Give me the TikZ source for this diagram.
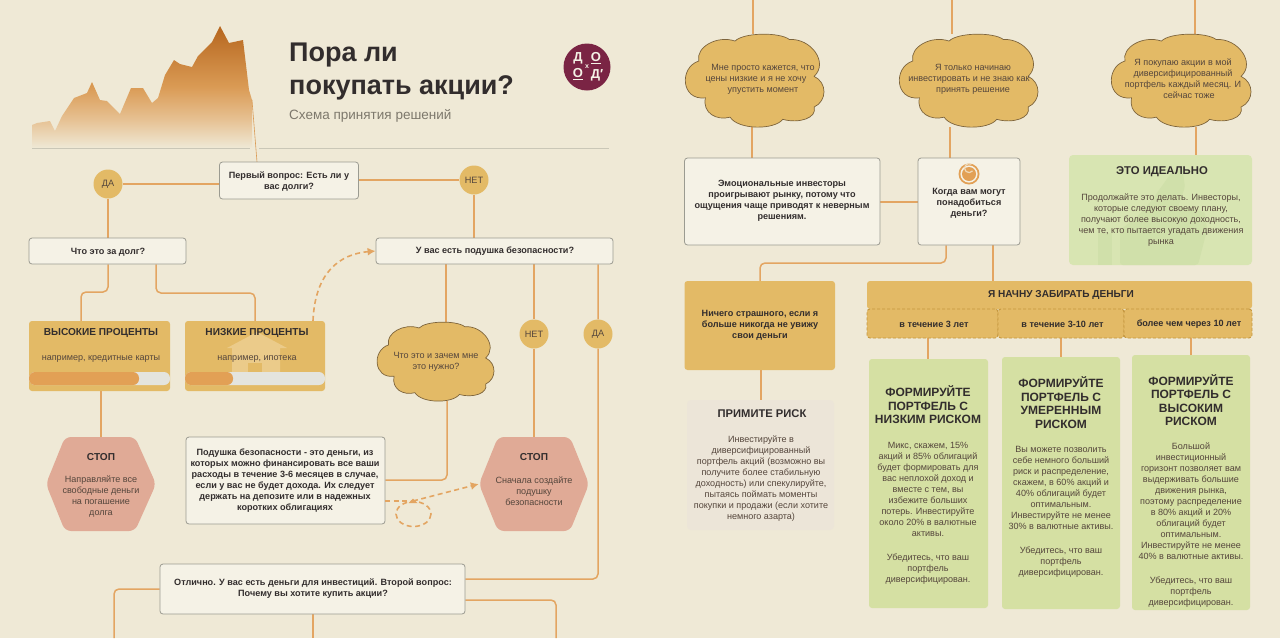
\documentclass[tikz,border=0pt]{standalone}
\usepackage{fontspec}
\setmainfont{Liberation Sans}
\usetikzlibrary{arrows.meta,backgrounds}
\definecolor{bgc}{RGB}{239,233,214}
\definecolor{linec}{RGB}{227,165,98}
\definecolor{goldc}{RGB}{227,186,102}
\definecolor{qfill}{RGB}{245,242,230}
\definecolor{qedge}{RGB}{155,155,145}
\definecolor{pinkc}{RGB}{224,170,150}
\definecolor{greenc}{RGB}{213,224,163}
\definecolor{idealc}{RGB}{216,229,178}
\definecolor{thumbc}{RGB}{208,224,170}
\definecolor{greyc}{RGB}{236,229,216}
\definecolor{maroon}{RGB}{122,36,68}
\definecolor{inkc}{RGB}{50,45,45}
\definecolor{softc}{RGB}{85,70,60}
\definecolor{housec}{RGB}{235,203,138}
\definecolor{trackc}{RGB}{228,228,222}
\definecolor{fillbar}{RGB}{226,160,85}
\definecolor{cloudedge}{RGB}{125,100,60}
\definecolor{charttop}{RGB}{182,102,30}
\definecolor{chartmid}{RGB}{218,155,85}
\definecolor{chartlow}{RGB}{230,192,145}
\definecolor{rulec}{RGB}{202,199,183}
\definecolor{subedge}{RGB}{196,150,62}
\definecolor{subttl}{RGB}{125,120,108}
\pgfdeclareverticalshading{chartshade}{100bp}{color(0bp)=(bgc); color(25bp)=(bgc); color(37bp)=(chartlow); color(50bp)=(chartmid); color(75bp)=(charttop); color(100bp)=(charttop)}
\tikzset{
 conn/.style={draw=linec,line width=1.5pt,rounded corners=5pt},
 dashc/.style={draw=linec,line width=1.6pt,dash pattern=on 5pt off 3.5pt},
 qbox/.style={draw=qedge,fill=qfill,line width=.8pt,rounded corners=3pt},
 goldbox/.style={fill=goldc,rounded corners=3pt},
 subbox/.style={fill=goldc,draw=subedge,line width=.9pt,densely dashed,rounded corners=3pt},
 greenbox/.style={fill=greenc,rounded corners=3pt},
 idealbox/.style={fill=idealc,rounded corners=4pt},
 greybox/.style={fill=greyc,rounded corners=4pt},
 badge/.style={circle,fill=goldc,minimum size=29pt,inner sep=0pt,text=softc,font=\fontsize{9.2}{11}\selectfont},
 txt/.style={text=softc,align=center,inner sep=0pt,yshift=-1.5pt,font=\fontsize{9.05}{11}\selectfont},
 btxt/.style={text=inkc,align=center,inner sep=0pt,yshift=-1.5pt,font=\bfseries\fontsize{9.1}{11}\selectfont},
 ttl/.style={text=inkc,align=center,inner sep=0pt,yshift=-1.5pt,font=\bfseries\fontsize{10.1}{13}\selectfont},
 bigttl/.style={text=inkc,align=center,inner sep=0pt,yshift=-1.5pt,font=\bfseries\fontsize{12}{13.5}\selectfont},
}
\newcommand{\bx}[7]{%
 \pgfmathsetmacro\bw{#5-#3}\pgfmathsetmacro\bh{#6-#4}%
 \pgfmathsetmacro\bcx{(#3+#5)/2}\pgfmathsetmacro\bcy{(#4+#6)/2}%
 \node[#2,minimum width=\bw pt,minimum height=\bh pt,inner sep=0pt,align=center] (#1) at (\bcx,\bcy) {#7};}
\newcommand{\cloudshape}[5]{%
 \pgfmathsetmacro\bw{#4-#2}\pgfmathsetmacro\bh{#5-#3}%
 \pgfmathsetmacro\bcx{(#2+#4)/2}\pgfmathsetmacro\bcy{(#3+#5)/2}%
 \pgfmathsetmacro\sx{\bw/425}\pgfmathsetmacro\sy{\bh/303}%
 \begin{scope}[shift={(#2,#3)},xscale=\sx,yscale=\sy,shift={(-10,-27)}]
 \draw[fill=goldc,draw=cloudedge,line width=.7pt]
 (165,50) .. controls (190,22) and (300,20) .. (330,45)
 .. controls (395,40) and (450,120) .. (405,165)
 .. controls (445,185) and (445,245) .. (405,265)
 .. controls (415,300) and (360,320) .. (310,305)
 .. controls (285,340) and (175,340) .. (150,298)
 .. controls (110,310) and (65,285) .. (75,235)
 .. controls (0,245) and (-5,135) .. (55,115)
 .. controls (45,70) and (110,30) .. (165,50) -- cycle;
 \end{scope}
 \node[minimum width=\bw pt,minimum height=\bh pt,inner sep=0pt] (#1) at (\bcx,\bcy) {};}
\begin{document}
\begin{tikzpicture}[x=1pt,y=-1pt]
\useasboundingbox (0,0) rectangle (1280,638);
\begin{scope}[on background layer]
 \fill[bgc] (0,0) rectangle (1280,638);
\end{scope}
% chart
\shade[shading=chartshade]
 (32,148) -- (32,125) -- (37,123) -- (50,121) -- (55,131) -- (62,116) -- (74,98) -- (87,93) -- (92,82) -- (100,100) -- (107,101) -- (120,114) -- (131,88) -- (143,88) -- (152,103) -- (158,98) -- (165,75) -- (174,60) -- (180,64) -- (192,67) -- (198,56) -- (212,42) -- (220,26) -- (229,43) -- (243,40) -- (249,90) -- (252,100) -- (252,148) -- cycle;
\draw[draw=chartmid,line width=.6pt] (252,100) -- (257,162);
\draw[draw=rulec,line width=1pt] (32,148) -- (250,148);
\draw[draw=rulec,line width=1pt] (259,148) -- (609,148);
% title
\node[anchor=west,inner sep=0pt,text=inkc,font=\bfseries\fontsize{27}{33}\selectfont,align=left] (title) at (289,71.5) {Пора ли\\покупать акции?};
\node[anchor=west,inner sep=0pt,text=subttl,font=\fontsize{13.5}{16}\selectfont] (subtitle) at (289,116) {Схема принятия решений};
% logo
\node[circle,fill=maroon,minimum size=47pt,inner sep=0pt] (logo) at (587,67) {};
\tikzset{logot/.style={inner sep=0pt,text=qfill,font=\bfseries\fontsize{13}{13}\selectfont}}
\node[logot] (l1) at (578,58) {Д};
\node[logot] (l2) at (596,58) {\underline{О}};
\node[logot] (l3) at (578,74) {\underline{О}};
\node[logot,font=\bfseries\fontsize{7}{7}\selectfont] (l4) at (587,67) {x};
\node[logot] (l5) at (597,75) {Д′};
% left page boxes
\bx{q1}{qbox}{219.5}{162}{358.5}{199}{}
\node[btxt] (q1t) at (289,180) {Первый вопрос: Есть ли у\\вас долги?};
\node[badge] (da1) at (108,184) {ДА};
\node[badge] (net1) at (474,180) {НЕТ};
\bx{dolg}{qbox}{29}{238}{186}{264}{}
\node[btxt] (dolgt) at (108,250.5) {Что это за долг?};
\bx{safety}{qbox}{376}{238}{613}{264}{}
\node[btxt] (safetyt) at (495,250) {У вас есть подушка безопасности?};
\bx{high}{goldbox}{29}{321}{170}{391}{}
\node[ttl] (hight) at (101,331) {ВЫСОКИЕ ПРОЦЕНТЫ};
\node[txt] (highs) at (101,357) {например, кредитные карты};
\fill[trackc,rounded corners=6pt] (29,372) rectangle (170,385);
\fill[fillbar,rounded corners=6pt] (29,372) rectangle (139,385);
\bx{low}{goldbox}{185}{321}{325}{391}{}
\fill[housec] (257,332) -- (287,348) -- (280,348) -- (280,383) -- (232,383) -- (232,348) -- (227,348) -- cycle;
\fill[goldc] (248,363) rectangle (262,372);
\node[ttl] (lowt) at (257,331) {НИЗКИЕ ПРОЦЕНТЫ};
\node[txt] (lows) at (257,357) {например, ипотека};
\fill[trackc,rounded corners=6pt] (185,372) rectangle (325,385);
\fill[fillbar,rounded corners=6pt] (185,372) rectangle (233,385);
\cloudshape{cq}{376}{322}{494}{401}
\node[txt] (cqt) at (436,360.5) {Что это и зачем мне\\это нужно?};
\node[badge] (net2) at (534,334) {НЕТ};
\node[badge] (da2) at (598,334) {ДА};
% stop hexagons
\fill[pinkc,rounded corners=6pt] (65,437) -- (135,437) -- (156,484) -- (135,531) -- (65,531) -- (46,484) -- cycle;
\node[minimum width=110pt,minimum height=94pt,inner sep=0pt] (stopA) at (101,484) {};
\node[ttl,text=inkc] (stopAt) at (101,456) {СТОП};
\node[txt] (stopAs) at (101,495.5) {Направляйте все\\свободные деньги\\на погашение\\долга};
\fill[pinkc,rounded corners=6pt] (498,437) -- (570,437) -- (589,484) -- (570,531) -- (498,531) -- (479,484) -- cycle;
\node[minimum width=110pt,minimum height=94pt,inner sep=0pt] (stopB) at (534,484) {};
\node[ttl,text=inkc] (stopBt) at (534,456) {СТОП};
\node[txt] (stopBs) at (534,490) {Сначала создайте\\подушку\\безопасности};
\bx{expl}{qbox}{186}{437}{385}{524}{}
\node[btxt] (explt) at (285,479.5) {Подушка безопасности - это деньги, из\\которых можно финансировать все ваши\\расходы в течение 3-6 месяцев в случае,\\если у вас не будет дохода. Их следует\\держать на депозите или в надежных\\коротких облигациях};
\bx{q2}{qbox}{160}{564}{465}{614}{}
\node[btxt] (q2t) at (313,587.5) {Отлично. У вас есть деньги для инвестиций. Второй вопрос:\\Почему вы хотите купить акции?};
% right page
\cloudshape{cA}{684}{34}{824}{127}
\node[txt] (cAt) at (756,78) {\hspace*{14pt}Мне просто кажется, что\\цены низкие и я не хочу\\\hspace*{14pt}упустить момент};
\cloudshape{cB}{898}{34}{1038}{127}
\node[txt] (cBt) at (969,78) {\hspace*{8pt}Я только начинаю\\инвестировать и не знаю как\\\hspace*{8pt}принять решение};
\cloudshape{cC}{1110}{34}{1251}{127}
\node[txt] (cCt) at (1183,77.5) {Я покупаю акции в мой\\диверсифицированный\\портфель каждый месяц. И\\\hspace*{12pt}сейчас тоже};
\bx{emo}{qbox}{684.5}{158}{880}{245}{}
\node[btxt] (emot) at (782,199.5) {Эмоциональные инвесторы\\проигрывают рынку, потому что\\ощущения чаще приводят к неверным\\решениям.};
\bx{when}{qbox}{918}{158}{1020}{245}{}
\fill[fillbar] (969,174) circle (10.5);
\fill[qfill] (969,174) circle (8.6);
\fill[fillbar] (969,174) circle (7);
\draw[qfill!70!fillbar,line width=1.2pt] (972.5,171) arc (40:300:4.5);
\node[btxt] (whent) at (969,202) {Когда вам могут\\понадобиться\\деньги?};
\bx{ideal}{idealbox}{1069}{155}{1252}{265}{}
\fill[thumbc] (1098,233) rectangle (1112,265);
\fill[thumbc,rounded corners=3pt] (1120,265) -- (1120,230) -- (1137,217) -- (1152,200) -- (1172,172) -- (1182,167) -- (1185,187) -- (1178,207) -- (1205,212) -- (1207,230) -- (1198,265) -- cycle;
\node[ttl,font=\bfseries\fontsize{11.3}{13}\selectfont] (idealt) at (1162,170) {ЭТО ИДЕАЛЬНО};
\node[txt] (ideals) at (1161,219) {Продолжайте это делать. Инвесторы,\\которые следуют своему плану,\\получают более высокую доходность,\\чем те, кто пытается угадать движения\\рынка};
\bx{nich}{goldbox}{684.5}{281}{835}{370}{}
\node[btxt] (nicht) at (760,324) {Ничего страшного, если я\\больше никогда не увижу\\свои деньги};
\bx{start}{goldbox}{867}{281}{1252}{309}{}
\node[ttl] (startt) at (1061,293.5) {Я НАЧНУ ЗАБИРАТЬ ДЕНЬГИ};
\bx{s1}{subbox}{867}{309}{998}{338}{}
\bx{s2}{subbox}{998}{309}{1124}{338}{}
\bx{s3}{subbox}{1124}{309}{1252}{338}{}
\node[btxt] (s1t) at (934,323) {в течение 3 лет};
\node[btxt] (s2t) at (1062.5,323) {в течение 3-10 лет};
\node[btxt] (s3t) at (1189,323) {более чем через 10 лет};
\bx{gA}{greenbox}{869}{359}{988}{608}{}
\node[bigttl] (gAt) at (928,403.5) {ФОРМИРУЙТЕ\\ПОРТФЕЛЬ С\\НИЗКИМ РИСКОМ};
\node[txt] (gAs) at (928,511.5) {Микс, скажем, 15\%\\акций и 85\% облигаций\\будет формировать для\\вас неплохой доход и\\вместе с тем, вы\\избежите больших\\потерь. Инвестируйте\\около 20\% в валютные\\активы.\\[13pt]Убедитесь, что ваш\\портфель\\диверсифицирован.};
\bx{gB}{greenbox}{1002}{357}{1120}{609}{}
\node[bigttl] (gBt) at (1061,401) {ФОРМИРУЙТЕ\\ПОРТФЕЛЬ С\\УМЕРЕННЫМ\\РИСКОМ};
\node[txt] (gBs) at (1061,510.5) {Вы можете позволить\\себе немного больший\\риск и распределение,\\скажем, в 60\% акций и\\40\% облигаций будет\\оптимальным.\\Инвестируйте не менее\\30\% в валютные активы.\\[13pt]Убедитесь, что ваш\\портфель\\диверсифицирован.};
\bx{gC}{greenbox}{1132}{355}{1250}{610}{}
\node[bigttl] (gCt) at (1191,398.5) {ФОРМИРУЙТЕ\\ПОРТФЕЛЬ С\\ВЫСОКИМ\\РИСКОМ};
\node[txt] (gCs) at (1191,524) {Большой\\инвестиционный\\горизонт позволяет вам\\выдерживать большие\\движения рынка,\\поэтому распределение\\в 80\% акций и 20\%\\облигаций будет\\оптимальным.\\Инвестируйте не менее\\40\% в валютные активы.\\[13pt]Убедитесь, что ваш\\портфель\\диверсифицирован.};
\bx{risk}{greybox}{687}{400}{834}{530}{}
\node[ttl,font=\bfseries\fontsize{11.2}{13}\selectfont] (riskt) at (762,412) {ПРИМИТЕ РИСК};
\node[txt] (risks) at (761,477.5) {Инвестируйте в\\диверсифицированный\\портфель акций (возможно вы\\получите более стабильную\\доходность) или спекулируйте,\\пытаясь поймать моменты\\покупки и продажи (если хотите\\немного азарта)};
% free ends and bends
\coordinate (top1) at (753,0);
\coordinate (top2) at (952,0);
\coordinate (top3) at (1195,0);
\coordinate (b1) at (114,638);
\coordinate (b2) at (313,638);
\coordinate (b3) at (556,638);
\coordinate (kn) at (413,501);
% connectors
\begin{scope}[on background layer]
\draw[conn] (q1.west |- da1) -- (da1);
\draw[conn] (q1.east |- net1) -- (net1);
\draw[conn] (da1) -- (da1 |- dolg.north);
\draw[conn] (net1) -- (net1 |- safety.north);
\draw[conn] (108,0 |- dolg.south) -- (108,292) -- (81,292) -- (81,0 |- high.north);
\draw[conn] (156,0 |- dolg.south) -- (156,293) -- (255,293) -- (255,0 |- low.north);
\draw[conn] (446,0 |- safety.south) -- (446,0 |- cq.north);
\draw[conn] (net2 |- safety.south) -- (net2) -- (net2 |- stopB.north);
\draw[conn] (da2 |- safety.south) -- (da2) -- (598,579) -- (q2.east |- 0,579);
\draw[conn] (101,0 |- high.south) -- (101,0 |- stopA.north);
\draw[conn] (447,0 |- cq.south) -- (447,480) -- (expl.east |- 0,480);
\draw[conn] (q2.west |- 0,589) -- (114,589) -- (b1);
\draw[conn] (b2 |- q2.south) -- (b2);
\draw[conn] (q2.east |- 0,600) -- (556,600) -- (b3);
\draw[conn] (top1) -- (top1 |- cA.north);
\draw[conn] (top2) -- (top2 |- cB.north);
\draw[conn] (top3) -- (top3 |- cC.north);
\draw[conn] (752,0 |- cA.south) -- (752,0 |- emo.north);
\draw[conn] (950,0 |- cB.south) -- (950,0 |- when.north);
\draw[conn] (1196,0 |- cC.south) -- (1196,0 |- ideal.north);
\draw[conn] (emo.east |- 0,202) -- (when.west |- 0,202);
\draw[conn] (946,0 |- when.south) -- (946,263) -- (760,263) -- (760,0 |- nich.north);
\draw[conn] (993,0 |- when.south) -- (993,0 |- start.north);
\draw[conn] (761,0 |- nich.south) -- (761,0 |- risk.north);
\draw[conn] (928,0 |- s1.south) -- (928,0 |- gA.north);
\draw[conn] (1061,0 |- s2.south) -- (1061,0 |- gB.north);
\draw[conn] (1191,0 |- s3.south) -- (1191,0 |- gC.north);
\end{scope}
\draw[dashc,-{Latex[length=8pt,width=8pt]}] (313,0 |- low.north) .. controls (315,272) and (340,254) .. (safety.west);
\draw[dashc] (expl.east |- kn) -- (kn);
\draw[dashc,-{Latex[length=8pt,width=8pt]}] (kn) -- (stopB.west);
\draw[dashc] (413.5,514) ellipse (17.5 and 12.5);
\fill[linec] (408.5,503) -- (413,498.5) -- (417.5,503) -- cycle;
\end{tikzpicture}
\end{document}
